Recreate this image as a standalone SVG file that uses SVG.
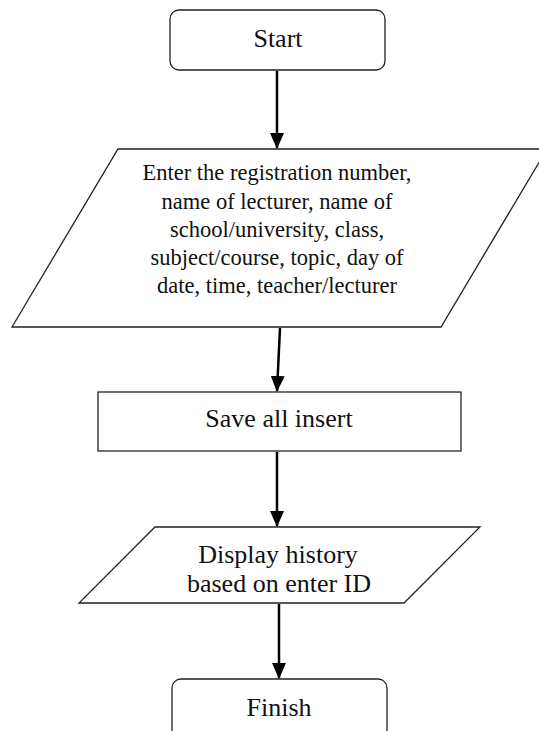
<svg xmlns="http://www.w3.org/2000/svg" width="539" height="731" viewBox="0 0 539 731">
<style>
.shape{fill:#fff;stroke:#222;stroke-width:1.3}
.t{font-family:"Liberation Serif","Times New Roman",serif;fill:#111;text-anchor:middle}
.big{font-size:26px}
.mid{font-size:22.5px}
.conn{stroke:#000;stroke-width:2.5;fill:none;marker-end:url(#arr)}
</style>
<defs>
<marker id="arr" viewBox="0 0 16 14" refX="15" refY="7" markerWidth="16" markerHeight="14" markerUnits="userSpaceOnUse" orient="auto">
<path d="M0,0 L16,7 L0,14 Z" fill="#000"/>
</marker>
</defs>
<rect width="539" height="731" fill="#fff"/>
<g id="start">
<rect class="shape" x="170" y="10" width="215" height="60" rx="9"/>
<text class="t big" x="278" y="47">Start</text>
</g>
<g id="input">
<polygon class="shape" points="118,149 547,149 441,327 12,327"/>
<text class="t mid" x="277" y="180">Enter the registration number,</text>
<text class="t mid" x="277" y="209">name of lecturer, name of</text>
<text class="t mid" x="277" y="237">school/university, class,</text>
<text class="t mid" x="277" y="265">subject/course, topic, day of</text>
<text class="t mid" x="277" y="293">date, time, teacher/lecturer</text>
</g>
<g id="save">
<rect class="shape" x="98" y="392" width="363" height="59"/>
<text class="t big" x="279" y="427">Save all insert</text>
</g>
<g id="display">
<polygon class="shape" points="155,527 480,527 404,603 79,603"/>
<text class="t big" x="278" y="563">Display history</text>
<text class="t big" x="279" y="592">based on enter ID</text>
</g>
<g id="finish">
<rect class="shape" x="172" y="679" width="215" height="60" rx="9"/>
<text class="t big" x="279" y="716">Finish</text>
</g>
<g id="connectors">
<line class="conn" x1="277" y1="71" x2="277" y2="148"/>
<line class="conn" x1="280" y1="328" x2="277" y2="391"/>
<line class="conn" x1="277" y1="452" x2="277" y2="526"/>
<line class="conn" x1="279" y1="604" x2="279" y2="678"/>
</g>
</svg>
